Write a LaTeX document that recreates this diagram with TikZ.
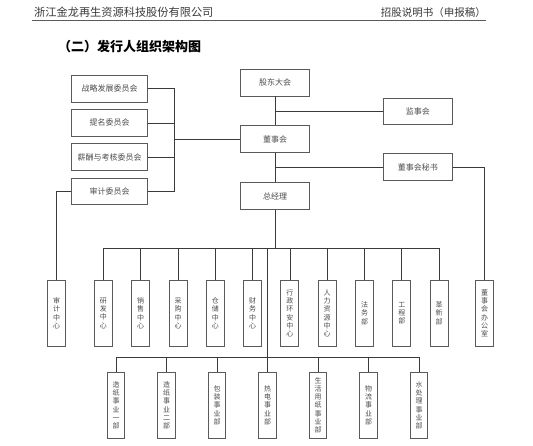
\documentclass[tikz,border=0pt]{standalone}
\usepackage{fontspec}
\setmainfont{Noto Sans CJK SC}
\usepackage{tikz}
\usetikzlibrary{positioning}
\definecolor{ink}{HTML}{3A3A3A}
\definecolor{frame}{HTML}{5A5A5A}
\definecolor{muted}{HTML}{4D4D4D}
\tikzset{
  link/.style={draw=ink,line width=0.7pt},
  base/.style={draw=frame,line width=0.9pt,fill=white,inner sep=0pt,text=muted,align=center},
  board/.style={base,minimum width=75.5pt,minimum height=26.5pt,font=\fontsize{8}{10}\selectfont},
  chair/.style={base,minimum width=68.5pt,minimum height=26.5pt,font=\fontsize{8}{10}\selectfont},
  dept/.style={base,minimum width=18pt,minimum height=65.5pt,font=\fontsize{7}{8.3}\selectfont},
  unit/.style={dept,minimum width=17.5pt,minimum height=66pt}
}

\begin{document}
\begin{tikzpicture}[x=1pt,y=1pt]
  \useasboundingbox[fill=white] (0,0) rectangle (533,-445);
  % page header
  \node[anchor=west,inner sep=0pt,text=ink,font=\fontsize{11.2}{13}\selectfont] (firm) at (34,-12.5) {浙江金龙再生资源科技股份有限公司};
  \node[anchor=east,inner sep=0pt,text=ink,font=\fontsize{10.5}{13}\selectfont] (doc) at (486,-12.5) {招股说明书（申报稿）};
  \draw[draw=frame,line width=1pt] (32,-20) -- (486,-20);
  \node[anchor=west,inner sep=0pt,text=black,font=\fontsize{13}{15}\selectfont\bfseries] (title) at (58,-47) {（二）发行人组织架构图};
  % governance
  \node[chair] (gd) at (275,-82.7) {股东大会};
  \node[chair,below=29pt of gd] (dsh) {董事会};
  \node[chair,below=29.5pt of dsh] (zjl) {总经理};
  \node[chair,minimum width=69pt] (jsh) at (417.8,-111.2) {监事会};
  \node[chair,minimum width=69pt,below=28.5pt of jsh] (ms) {董事会秘书};
  \node[board] (zl) at (109.5,-88.7) {战略发展委员会};
  \node[board,below=6.8pt of zl] (tm) {提名委员会};
  \node[board,below=6.8pt of tm] (xc) {薪酬与考核委员会};
  \node[board,below=6.8pt of xc] (sj) {审计委员会};
  % centres and departments
  \node[dept] (sjzx) at (56.5,-313.3) {审\\计\\中\\心};
  \node[dept,right=28pt of sjzx] (yf) {研\\发\\中\\心};
  \node[dept,right=18.4pt of yf] (xs) {销\\售\\中\\心};
  \node[dept,right=18.4pt of xs] (cg) {采\\购\\中\\心};
  \node[dept,right=18.4pt of cg] (cc) {仓\\储\\中\\心};
  \node[dept,right=18.4pt of cc] (cw) {财\\务\\中\\心};
  \node[dept,right=18.4pt of cw] (xz) {行\\政\\环\\安\\中\\心};
  \node[dept,right=18.4pt of xz] (rl) {人\\力\\资\\源\\中\\心};
  \node[dept,right=18.4pt of rl] (fw) {法\\务\\部};
  \node[dept,right=18.4pt of fw] (gc) {工\\程\\部};
  \node[dept,right=18.4pt of gc] (gx) {革\\新\\部};
  \node[dept,right=26.7pt of gx] (bgs) {董\\事\\会\\办\\公\\室};
  % business units
  \node[unit] (zz1) at (116,-405.3) {造\\纸\\事\\业\\一\\部};
  \node[unit,right=32.1pt of zz1] (zz2) {造\\纸\\事\\业\\二\\部};
  \node[unit,right=32.1pt of zz2] (bz) {包\\装\\事\\业\\部};
  \node[unit,right=32.1pt of bz] (rd) {热\\电\\事\\业\\部};
  \node[unit,right=32.1pt of rd] (sh) {生\\活\\用\\纸\\事\\业\\部};
  \node[unit,right=32.1pt of sh] (wl) {物\\流\\事\\业\\部};
  \node[unit,right=32.1pt of wl] (scl) {水\\处\\理\\事\\业\\部};
  % connectors
  \draw[link] (gd) -- (dsh);
  \draw[link] (jsh.west) -- (jsh.west -| gd.south);
  \draw[link] (dsh) -- (zjl);
  \draw[link] (ms.west) -- (ms.west -| dsh.south);
  \draw[link] (ms.east) -| (bgs.north);
  \draw[link] (dsh.west) -- ++(-66.4,0) coordinate (cbus);
  \draw[link] (zl.east) -| (cbus) (tm.east) -| (cbus) (xc.east) -| (cbus) (sj.east) -| (cbus);
  \draw[link] (sj.west) -| (sjzx.north);
  \draw[link] (zjl.south) -- ++(0,-38.3) coordinate (mbus);
  \draw[link] (yf.north) |- (mbus) (xs.north) |- (mbus) (cg.north) |- (mbus) (cc.north) |- (mbus)
              (cw.north) |- (mbus) (xz.north) |- (mbus) (rl.north) |- (mbus) (fw.north) |- (mbus)
              (gc.north) |- (mbus) (gx.north) |- (mbus);
  \draw[link] (rd.north) -- ++(0,15) coordinate (bbus) -- (rd.north |- mbus);
  \draw[link] (zz1.north) |- (bbus) (zz2.north) |- (bbus) (bz.north) |- (bbus)
              (sh.north) |- (bbus) (wl.north) |- (bbus) (scl.north) |- (bbus);
\end{tikzpicture}
\end{document}
